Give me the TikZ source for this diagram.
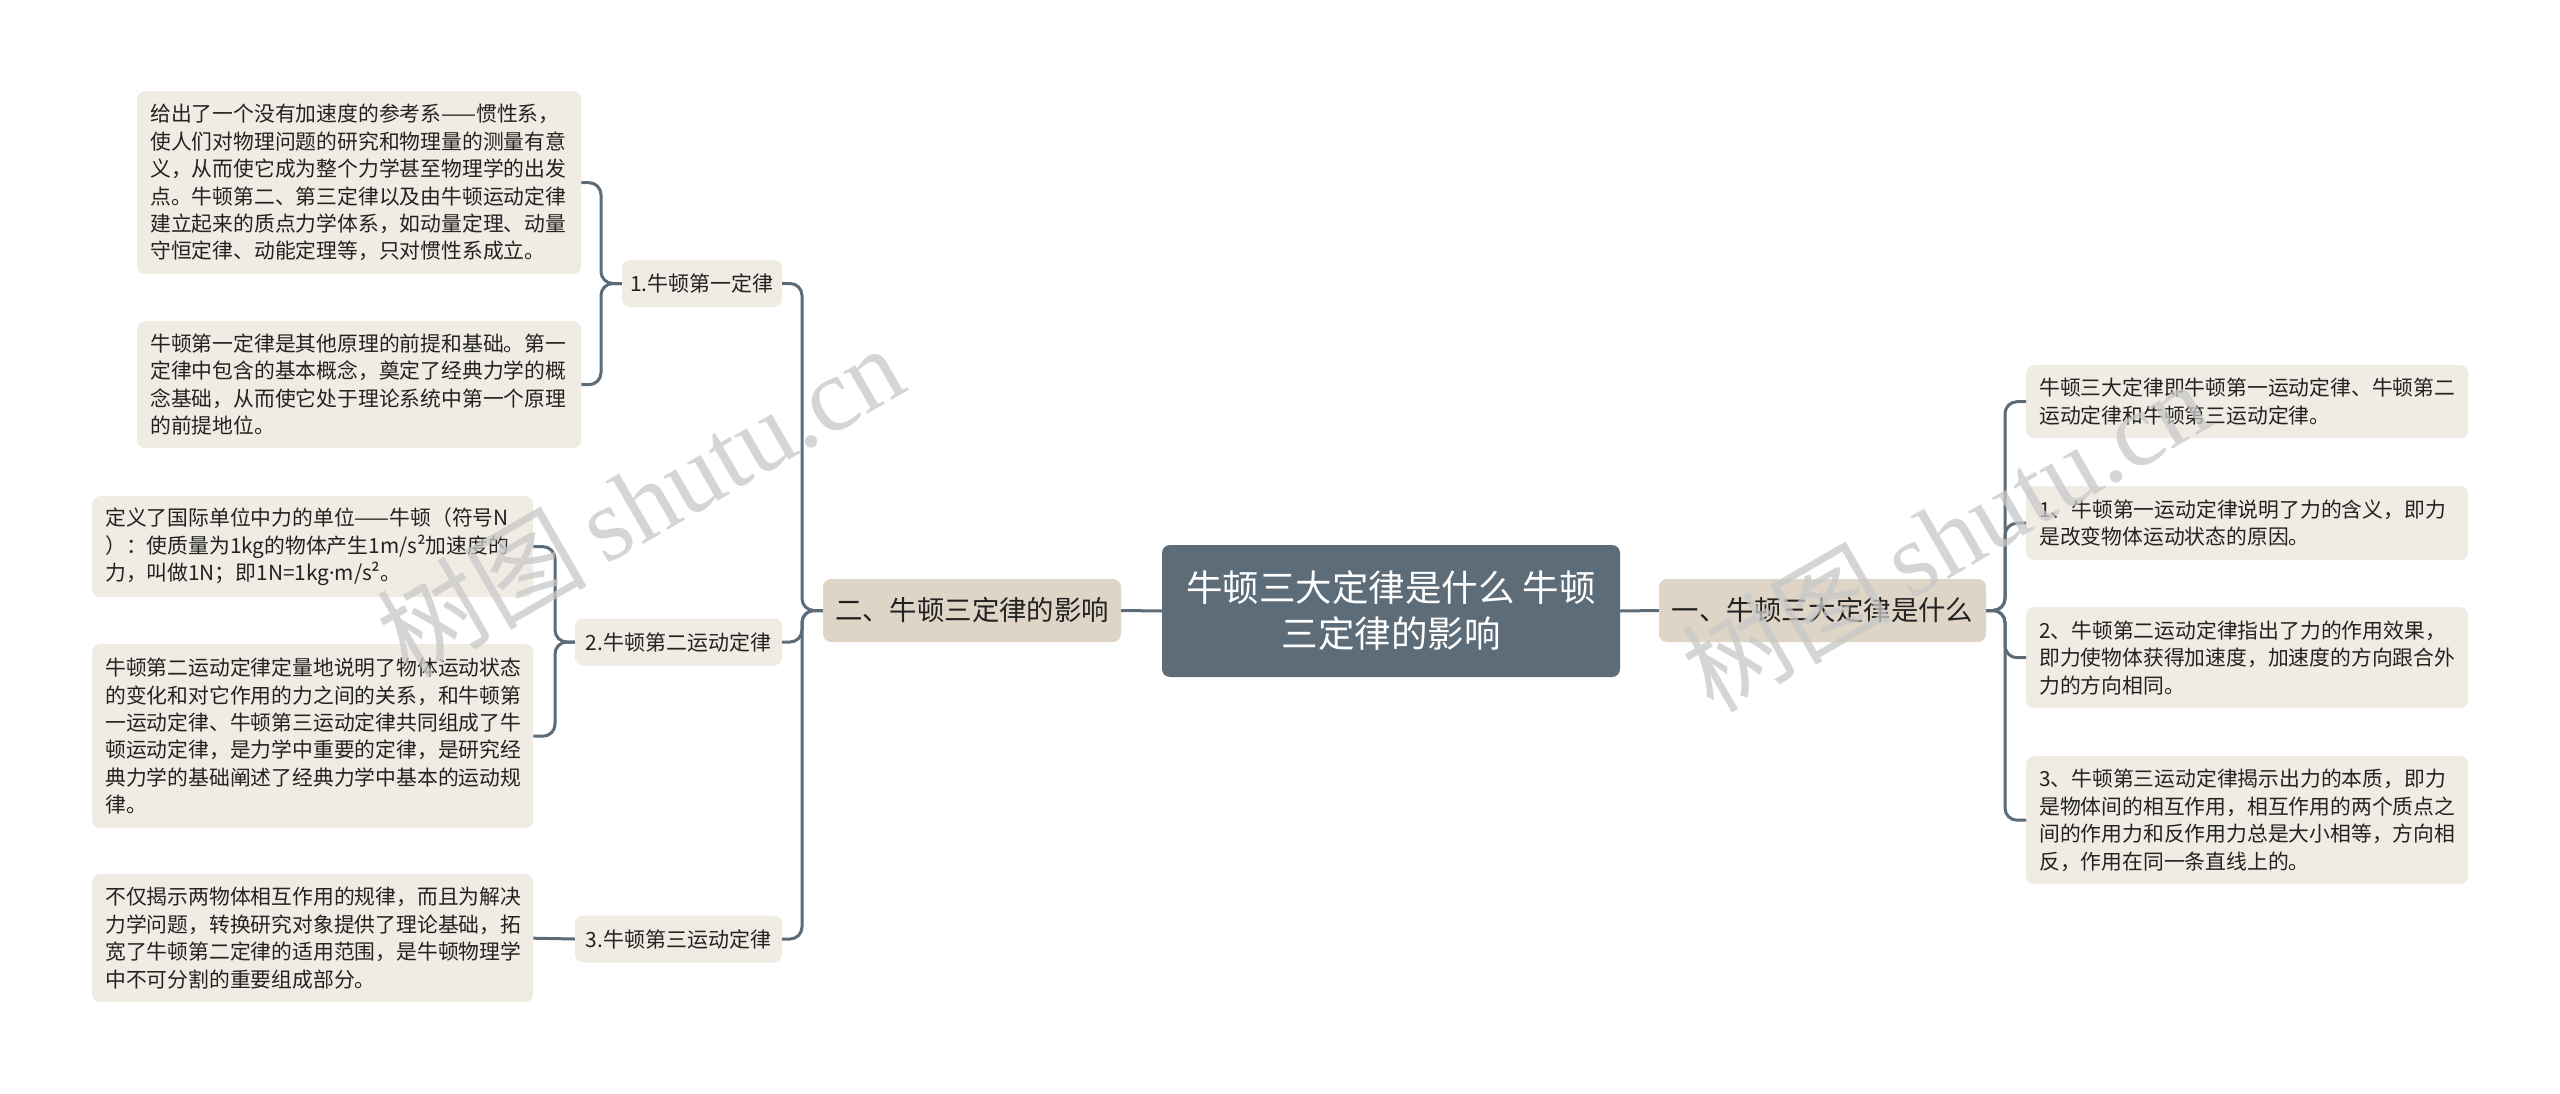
\documentclass[tikz,border=0pt]{standalone}
\usepackage{fontspec}
\setmainfont{Noto Sans CJK SC}
\newfontfamily\wmserif{Liberation Serif}
\newfontfamily\wmcjk{Noto Sans CJK SC}
\newfontfamily\latinf{Noto Sans}
\definecolor{linec}{HTML}{5B6B77}
\definecolor{rootc}{HTML}{5C6C79}
\definecolor{lonec}{HTML}{DED5C6}
\definecolor{leafc}{HTML}{F0ECE4}
\definecolor{textc}{HTML}{222222}
\definecolor{wmc}{HTML}{C8C8C8}
\tikzset{
  conn/.style={draw=linec, line width=3pt, rounded corners=12pt},
  rootbox/.style={fill=rootc, rounded corners=8pt, text=white, align=center, inner sep=0pt,
    font=\fontsize{36.5}{46}\selectfont},
  lonebox/.style={fill=lonec, rounded corners=8pt, text=textc, inner sep=0pt,
    font=\fontsize{27.4}{34}\selectfont},
  ltwobox/.style={fill=leafc, rounded corners=8pt, text=textc, inner sep=0pt,
    font=\fontsize{21}{26}\selectfont},
  leafbox/.style={fill=leafc, rounded corners=8pt, anchor=north west, inner xsep=13pt,
    inner ysep=0pt, align=left, text=textc, font=\fontsize{20.8}{27.4}\selectfont},
  wmark/.style={text=wmc, opacity=0.75, rotate=30, inner sep=0pt}
}
\begin{document}
\begin{tikzpicture}[x=1pt,y=-1pt]
\useasboundingbox (0,0) rectangle (2560,1094);
\fill[white] (0,0) rectangle (2560,1094);

% spines
\coordinate (spL) at (802,0);
\coordinate (spLa) at (601,0);
\coordinate (spLb) at (555,0);
\coordinate (spR) at (2005,0);

% root
\node[rootbox, minimum width=458pt, minimum height=132pt] (root) at (1391,611) {牛顿三大定律是什么 牛顿\\三定律的影响};

% level 1
\node[lonebox, minimum width=298pt, minimum height=63pt] (lL) at (972,610.5) {二、牛顿三定律的影响};
\node[lonebox, minimum width=327pt, minimum height=63pt] (lR) at (1822.5,610.5) {一、牛顿三大定律是什么};

% level 2 (left)
\node[ltwobox, minimum width=160pt, minimum height=47pt] (n1) at (702,283.5) {1.牛顿第一定律};
\node[ltwobox, minimum width=207pt, minimum height=47pt] (n2) at (678.5,642) {2.牛顿第二运动定律};
\node[ltwobox, minimum width=207pt, minimum height=47pt] (n3) at (678.5,939) {3.牛顿第三运动定律};

% leaves left
\node[leafbox, text width=418pt, minimum height=183pt] (a1) at (137,91) {给出了一个没有加速度的参考系——惯性系，\\使人们对物理问题的研究和物理量的测量有意\\义，从而使它成为整个力学甚至物理学的出发\\点。牛顿第二、第三定律以及由牛顿运动定律\\建立起来的质点力学体系，如动量定理、动量\\守恒定律、动能定理等，只对惯性系成立。};
\node[leafbox, text width=418pt, minimum height=127pt] (a2) at (137,321) {牛顿第一定律是其他原理的前提和基础。第一\\定律中包含的基本概念，奠定了经典力学的概\\念基础，从而使它处于理论系统中第一个原理\\的前提地位。};
\node[leafbox, text width=415pt, minimum height=101pt] (b1) at (92,496) {定义了国际单位中力的单位——牛顿（符号N\\）：使质量为1kg的物体产生1m/s²加速度的\\力，叫做1N；即1N=1kg{\latinf ·}m/s²。};
\node[leafbox, text width=415pt, minimum height=184pt] (b2) at (92,644) {牛顿第二运动定律定量地说明了物体运动状态\\的变化和对它作用的力之间的关系，和牛顿第\\一运动定律、牛顿第三运动定律共同组成了牛\\顿运动定律，是力学中重要的定律，是研究经\\典力学的基础阐述了经典力学中基本的运动规\\律。};
\node[leafbox, text width=415pt, minimum height=128pt] (c1) at (92,874) {不仅揭示两物体相互作用的规律，而且为解决\\力学问题，转换研究对象提供了理论基础，拓\\宽了牛顿第二定律的适用范围，是牛顿物理学\\中不可分割的重要组成部分。};

% leaves right
\node[leafbox, text width=416pt, minimum height=73pt] (r1) at (2026,365) {牛顿三大定律即牛顿第一运动定律、牛顿第二\\运动定律和牛顿第三运动定律。};
\node[leafbox, text width=416pt, minimum height=74pt] (r2) at (2026,486) {1、牛顿第一运动定律说明了力的含义，即力\\是改变物体运动状态的原因。};
\node[leafbox, text width=416pt, minimum height=101pt] (r3) at (2026,607) {2、牛顿第二运动定律指出了力的作用效果，\\即力使物体获得加速度，加速度的方向跟合外\\力的方向相同。};
\node[leafbox, text width=416pt, minimum height=128pt] (r4) at (2026,756) {3、牛顿第三运动定律揭示出力的本质，即力\\是物体间的相互作用，相互作用的两个质点之\\间的作用力和反作用力总是大小相等，方向相\\反，作用在同一条直线上的。};

% connectors
\draw[conn] (root.west) -- (lL.east);
\draw[conn] (root.east) -- (lR.west);

\draw[conn] (lL.west) -- (lL.west -| spL) |- (n1.east);
\draw[conn] (lL.west) -- (lL.west -| spL) |- (n2.east);
\draw[conn] (lL.west) -- (lL.west -| spL) |- (n3.east);

\draw[conn] (n1.west) -- (n1.west -| spLa) |- (a1.east);
\draw[conn] (n1.west) -- (n1.west -| spLa) |- (a2.east);

\draw[conn] (n2.west) -- (n2.west -| spLb) |- (b1.east);
\draw[conn] (n2.west) -- (n2.west -| spLb) |- (b2.east);

\draw[conn] (n3.west) -- (c1.east);

\draw[conn] (lR.east) -- (lR.east -| spR) |- (r1.west);
\draw[conn] (lR.east) -- (lR.east -| spR) |- (r2.west);
\draw[conn] (lR.east) -- (lR.east -| spR) |- (r3.west);
\draw[conn] (lR.east) -- (lR.east -| spR) |- (r4.west);

% watermarks
\node[wmark] (wm1) at (640,500) {\fontsize{105}{110}\selectfont\wmcjk 树图\,\wmserif shutu.cn};
\node[wmark] (wm2) at (1945,535) {\fontsize{105}{110}\selectfont\wmcjk 树图\,\wmserif shutu.cn};
\end{tikzpicture}
\end{document}
